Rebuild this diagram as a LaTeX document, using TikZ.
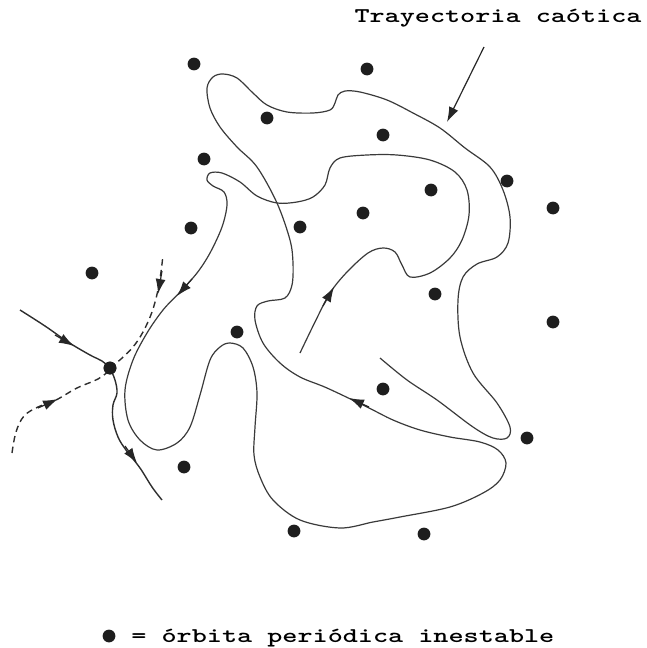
\documentclass[tikz,border=0pt]{standalone}
\usetikzlibrary{arrows.meta}
\definecolor{ink}{HTML}{3A3A3A}
\definecolor{dotc}{HTML}{1E1E1E}
\tikzset{
  traj/.style={ink, line width=0.6pt, line join=round},
  manif/.style={ink!80!black, line width=0.7pt},
  dashedmanif/.style={manif, dash pattern=on 3.2pt off 2.2pt},
  orbit/.style={circle, fill=dotc, inner sep=0pt, minimum size=6.4pt},
  tip/.style={-{Latex[length=7.5pt,width=5pt]}, line width=0.6pt, black!85},
  lbl/.style={font=\fontsize{10.5}{12}\selectfont\ttfamily\bfseries, inner sep=0pt}
}
\begin{document}
\begin{tikzpicture}[x=0.5pt,y=-0.5pt]
\useasboundingbox (0,0) rectangle (647,648);

% chaotic trajectory (one long curve)
\draw[traj] plot[smooth, tension=0.55] coordinates {
 (300,353) (315,322) (330,293) (347,272) (368,253) (383,248) (395,252)
 (402,265) (410,277) (430,273) (450,258) (462,240) (469,215) (467,190)
 (455,172) (430,160) (397,155) (367,155) (340,158) (330,168) (325,185)
 (313,197) (297,202) (277,203) (257,196) (240,182) (222,173) (210,173)
 (207,180) (213,186) (224,192) (227,205) (222,227) (210,253) (197,273)
 (180,292) (163,310) (147,333) (133,360) (125,390) (128,420) (140,440)
 (157,450) (177,443) (190,427) (200,395) (210,360) (220,347) (230,343)
 (243,348) (253,367) (257,393) (255,427) (254,455) (260,477) (273,500)
 (300,520) (340,528) (373,522) (400,517) (450,507) (483,493) (500,480)
 (506,463) (498,450) (480,442) (450,437) (420,430) (393,420) (367,407)
 (327,388) (300,377) (280,363) (263,343) (255,320) (257,306) (268,301)
 (285,298) (292,285) (293,263) (290,240) (277,203) (257,167) (237,147)
 (220,127) (210,108) (207,88) (213,77) (223,74) (237,78) (253,93)
 (267,105) (287,112) (313,113) (330,110) (335,103) (338,95) (345,91)
 (360,92) (387,100) (413,113) (440,128) (465,148) (490,167) (503,190)
 (510,217) (508,243) (497,257) (477,264) (463,277) (458,300) (460,337)
 (473,373) (497,403) (510,427) (507,438) (493,438) (473,427) (437,400)
 (407,380) (380,358)};

% direction marks on the trajectory
\coordinate (ta1) at (323,306); \coordinate (tb1) at (334,287);
\coordinate (ta2) at (192,279); \coordinate (tb2) at (177,296);
\coordinate (ta3) at (369,407); \coordinate (tb3) at (349,398);
\draw[tip] (ta1) -- (tb1);
\draw[tip] (ta2) -- (tb2);
\draw[tip] (ta3) -- (tb3);

% unstable periodic orbits
\foreach \n/\p in {1/{(194,64)}, 2/{(367,69)}, 3/{(267,118)}, 4/{(383,135)},
  5/{(204,159)}, 6/{(507,181)}, 7/{(431,190)}, 8/{(553,208)}, 9/{(363,213)},
  10/{(191,228)}, 11/{(300,227)}, 12/{(92,273)}, 13/{(435,294)}, 14/{(553,322)},
  15/{(237,332)}, 17/{(383,389)}, 18/{(527,438)}, 19/{(184,467)},
  20/{(294,531)}, 21/{(424,534)}}
  \node[orbit] (o\n) at \p {};

% saddle orbit and its manifolds
\node[orbit] (sad) at (110,368) {};
\draw[manif] plot[smooth, tension=0.6] coordinates
  {(20,310) (45,326) (68,342) (90,355) (102,361) (110,368)};
\draw[manif] plot[smooth, tension=0.6] coordinates
  {(110,368) (115,380) (117,393) (113,405) (113,420) (118,437) (126,450) (140,468) (152,487) (162,500)};
\draw[dashedmanif] plot[smooth, tension=0.6] coordinates
  {(110,368) (121,359) (133,347) (143,332) (152,312) (158,290) (161,272) (163,255)};
\draw[dashedmanif] plot[smooth, tension=0.6] coordinates
  {(12,453) (16,432) (24,416) (38,407) (56,400) (77,388) (98,379) (110,370)};
\node[orbit] at (sad) {};

\coordinate (ma1) at (55,335);  \coordinate (mb1) at (74,346);
\coordinate (ma2) at (125,446); \coordinate (mb2) at (137,463);
\coordinate (ma3) at (162,271); \coordinate (mb3) at (158,294);
\coordinate (ma4) at (38,408);  \coordinate (mb4) at (58,399);
\draw[tip] (ma1) -- (mb1);
\draw[tip] (ma2) -- (mb2);
\draw[tip] (ma3) -- (mb3);
\draw[tip] (ma4) -- (mb4);

% label of the trajectory
\node[lbl, anchor=base] (title) at (498,23) {\scalebox{1.37}[1]{Trayectoria caótica}};
\coordinate (pa) at (484,47);
\coordinate (pb) at (447,122);
\draw[tip] (pa) -- (pb);

% legend
\node[orbit] (key) at (109,636) {};
\node[lbl, anchor=base west] (keytext) at (131,642) {\scalebox{1.37}[1]{= órbita periódica inestable}};
\end{tikzpicture}
\end{document}
